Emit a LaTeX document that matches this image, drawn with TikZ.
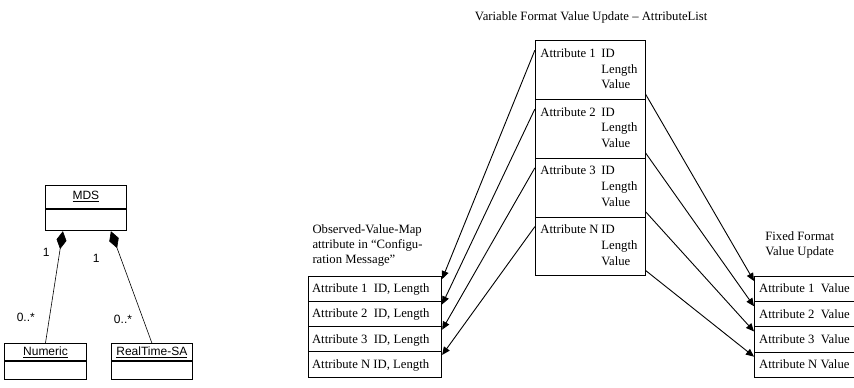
\documentclass[tikz,border=0pt]{standalone}
\usepackage{fontspec}
\setmainfont{Liberation Serif}
\newfontfamily\umlfont{Liberation Sans}
\usetikzlibrary{arrows.meta}
\tikzset{
  txt/.style={inner sep=0pt, font=\fontsize{12.7}{15}\selectfont},
  umltxt/.style={inner sep=0pt, font=\umlfont\fontsize{12}{14}\selectfont},
  mbox/.style={draw, line width=0.9pt, minimum width=109.7pt, minimum height=58.8pt, inner sep=0pt},
  lbox/.style={draw, line width=0.9pt, minimum width=133.4pt, minimum height=25.3pt, inner sep=0pt},
  rbox/.style={draw, line width=0.9pt, minimum width=104pt, minimum height=25.2pt, inner sep=0pt},
  ubox/.style={draw, line width=0.8pt, minimum width=81.7pt, inner sep=0pt},
  arr/.style={line width=0.9pt, -{Triangle[length=8pt,width=7pt]}},
  comp/.style={line width=0.6pt, {Diamond[length=18pt,width=10pt]}-}
}
\begin{document}
\begin{tikzpicture}[x=1pt,y=-1pt]
\useasboundingbox (0,0) rectangle (854,388);

% ---------- UML part ----------
\node[ubox, minimum height=23.3pt] (mds) at (85.85,196.65) {};
\node[umltxt] (mdst) at (mds.center) {\underline{MDS}};
\node[ubox, minimum height=21.7pt, anchor=north] (mdsb) at (mds.south) {};
\node[ubox, minimum height=17.4pt] (num) at (45.5,352) {};
\node[umltxt] (numt) at (num.center) {\underline{Numeric}};
\node[ubox, minimum height=17.6pt, anchor=north] (numb) at (num.south) {};
\node[ubox, minimum height=17.4pt] (rt) at (151.85,352) {};
\node[umltxt] (rtt) at (rt.center) {\underline{RealTime-SA}};
\node[ubox, minimum height=17.6pt, anchor=north] (rtb) at (rt.south) {};
\coordinate (dl) at ([xshift=18.3pt]mdsb.south west);
\coordinate (dr) at ([xshift=66.3pt]mdsb.south west);
\draw[comp] (dl) -- (num.north);
\draw[comp] (dr) -- (rt.north);
\node[umltxt, anchor=base] (one1) at (46.3,256.3) {1};
\node[umltxt, anchor=base] (one2) at (96.3,262.7) {1};
\node[umltxt, anchor=base] (many1) at (25.8,321.7) {0..*};
\node[umltxt, anchor=base] (many2) at (123,323.3) {0..*};

% ---------- Title ----------
\node[txt, anchor=base] (title) at (591.2,20.5) {Variable Format Value Update -- AttributeList};

% ---------- Middle stack ----------
\foreach \i/\lab/\cy in {1/1/70.1, 2/2/128.9, 3/3/187.7, 4/N/246.5}{
  \node[mbox] (m\i) at (590.15,\cy) {};
  \node[txt, anchor=base west] (m\i a) at ([xshift=5.4pt,yshift=-17pt]m\i.north west) {Attribute \lab};
  \node[txt, anchor=base west] (m\i b) at ([xshift=66.4pt,yshift=-17pt]m\i.north west) {ID};
  \node[txt, anchor=base west] (m\i c) at ([xshift=66.4pt,yshift=-32.8pt]m\i.north west) {Length};
  \node[txt, anchor=base west] (m\i d) at ([xshift=66.4pt,yshift=-48.6pt]m\i.north west) {Value};
}

% ---------- Left stack ----------
\node[txt, anchor=north west, align=left] (obs) at (312.3,224) {Observed-Value-Map\\attribute in “Configu-\\ration Message”};
\foreach \i/\lab/\cy in {1/1\ \ /288.65, 2/2\ \ /313.95, 3/3\ \ /339.25, 4/N /364.55}{
  \node[lbox] (l\i) at (375,\cy) {};
  \node[txt, anchor=base west] (l\i t) at ([xshift=4pt,yshift=-3.8pt]l\i.west) {Attribute \lab ID, Length};
}

% ---------- Right stack ----------
\node[txt, anchor=north, align=center] (fix) at (799.7,231.3) {Fixed Format\\Value Update};
\foreach \i/\lab/\cy in {1/1\ \ /289.1, 2/2\ \ /314.3, 3/3\ \ /339.5, 4/N /364.7}{
  \node[rbox, anchor=west] (r\i) at (754,\cy) {};
  \node[txt, anchor=base west] (r\i t) at ([xshift=5pt,yshift=-3.8pt]r\i.west) {Attribute \lab Value};
}

% ---------- Arrows ----------
\foreach \i in {1,2,3,4}{
  \coordinate (ls\i) at ([yshift=-10pt]m\i.north west);
  \coordinate (le\i) at ([yshift=-3.5pt]l\i.north east);
  \draw[arr] (ls\i) -- (le\i);
  \coordinate (rs\i) at ([yshift=6pt]m\i.south east);
  \coordinate (re\i) at ([yshift=-5pt]r\i.north west);
  \draw[arr] (rs\i) -- (re\i);
}
\end{tikzpicture}
\end{document}
